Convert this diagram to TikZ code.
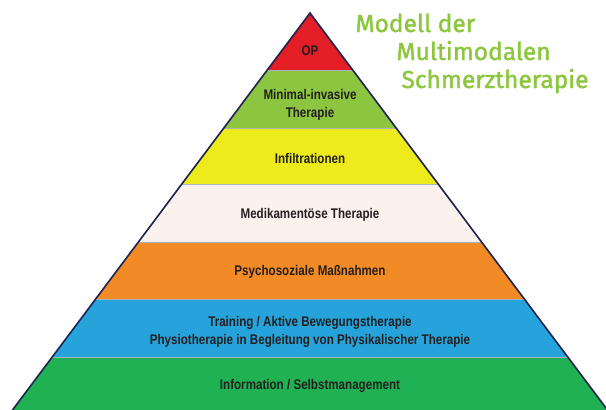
\documentclass[tikz,border=0pt]{standalone}
\usepackage{fontspec}
\newfontfamily\bandfont[FakeStretch=0.83]{Liberation Sans}
\newfontfamily\titlefont[FakeBold=1.6]{Fira Sans}

\definecolor{opred}{HTML}{E31E26}
\definecolor{minigreen}{HTML}{8CC540}
\definecolor{infilyellow}{HTML}{EDEB1C}
\definecolor{medwhite}{HTML}{FBF2EE}
\definecolor{psyorange}{HTML}{F28A25}
\definecolor{trainblue}{HTML}{26A3DB}
\definecolor{infogreen}{HTML}{20B152}
\definecolor{titlegreen}{HTML}{8DC63F}
\definecolor{outlinenavy}{HTML}{1C2250}
\definecolor{textdark}{HTML}{231F20}
\definecolor{sepgray}{HTML}{A9B3BC}

\begin{document}
\begin{tikzpicture}[x=1pt,y=-1pt,
    band/.style={font=\bandfont\bfseries\fontsize{14}{17.5}\selectfont,text=textdark,align=center},
    title/.style={font=\titlefont\fontsize{24.5}{30}\selectfont,text=titlegreen,anchor=base west},
    outline/.style={draw=outlinenavy,line width=1.6pt,line join=miter}]
    \useasboundingbox (0,0) rectangle (606,410);

    % pyramid bands, top to bottom
    \foreach \ya/\yb/\col in {13/70/opred,70/128/minigreen,128/184/infilyellow,184/242/medwhite,242/299/psyorange,299/357/trainblue,357/412/infogreen}{
      \pgfmathsetmacro\xa{0.748*(\ya-13)}
      \pgfmathsetmacro\xb{0.748*(\yb-13)}
      \fill[\col] (310-\xa,\ya) -- (310+\xa,\ya) -- (310+\xb,\yb) -- (310-\xb,\yb) -- cycle;
    }
    \foreach \ya in {70,128,184,242,299,357}{
      \pgfmathsetmacro\xa{0.748*(\ya-13)}
      \draw[sepgray,line width=0.6pt] (310-\xa,\ya) -- (310+\xa,\ya);
    }

    \coordinate (apex) at (310,13);
    \coordinate (baseleft) at (11,412);
    \coordinate (baseright) at (609,412);
    \draw[outline] (baseleft) -- (apex) -- (baseright);

    \node[band] (op) at (310,51) {OP};
    \node[band] (mini) at (310,105) {Minimal-invasive\\Therapie};
    \node[band] (infil) at (310,158) {Infiltrationen};
    \node[band] (medi) at (310,215) {Medikamentöse Therapie};
    \node[band] (psycho) at (310,272) {Psychosoziale Maßnahmen};
    \node[band] (train) at (310,332) {Training / Aktive Bewegungstherapie\\Physiotherapie in Begleitung von Physikalischer Therapie};
    \node[band] (info) at (310,386) {Information / Selbstmanagement};

    \node[title] (modell) at (352,32) {Modell der};
    \node[title] (multi) at (393,60) {Multimodalen};
    \node[title] (schmerz) at (398,88) {Schmerztherapie};
\end{tikzpicture}
\end{document}
